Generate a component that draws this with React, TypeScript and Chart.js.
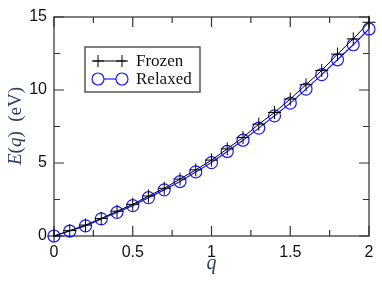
import React, { useEffect, useRef } from "react";
import { Chart, registerables } from "chart.js";

Chart.register(...registerables);

const qValues = [0, 0.1, 0.2, 0.3, 0.4, 0.5, 0.6, 0.7, 0.8, 0.9, 1.0, 1.1, 1.2, 1.3, 1.4, 1.5, 1.6, 1.7, 1.8, 1.9, 2.0];
const frozen = [0, 0.37, 0.75, 1.2, 1.7, 2.17, 2.74, 3.27, 3.9, 4.53, 5.2, 5.97, 6.75, 7.66, 8.46, 9.38, 10.36, 11.34, 12.46, 13.5, 14.64];
const relaxed = [0, 0.34, 0.69, 1.17, 1.62, 2.08, 2.63, 3.16, 3.73, 4.39, 5.03, 5.79, 6.56, 7.39, 8.23, 9.1, 10.06, 11.05, 12.07, 13.1, 14.18];
const xTicks = [0, 0.5, 1, 1.5, 2];
const yTicks = [0, 5, 10, 15];
const seriesNames = ["Frozen", "Relaxed"];

const BLUE = "#1a1aff";
const FRAME = "#555555";

const framePlugin = {
  id: "frame",
  beforeDatasetsDraw(chart: any) {
    const { ctx, chartArea: a, scales } = chart;
    const x = scales.x, y = scales.y;
    ctx.save();
    ctx.strokeStyle = FRAME;
    ctx.lineWidth = 1.5;
    ctx.strokeRect(a.left, a.top, a.right - a.left, a.bottom - a.top);
    ctx.lineWidth = 1.2;
    ctx.strokeStyle = "#333";
    ctx.beginPath();
    for (let v = 0; v <= 2.0001; v += 0.25) {
      const px = x.getPixelForValue(v);
      const major = Math.abs(v * 2 - Math.round(v * 2)) < 1e-6;
      const len = major ? 10 : 6;
      ctx.moveTo(px, a.bottom);
      ctx.lineTo(px, a.bottom - len);
      ctx.moveTo(px, a.top);
      ctx.lineTo(px, a.top + len);
    }
    for (let v = 0; v <= 15.0001; v += 2.5) {
      const py = y.getPixelForValue(v);
      const major = Math.abs(v / 5 - Math.round(v / 5)) < 1e-6;
      const len = major ? 10 : 6;
      ctx.moveTo(a.left, py);
      ctx.lineTo(a.left + len, py);
      ctx.moveTo(a.right, py);
      ctx.lineTo(a.right - len, py);
    }
    ctx.stroke();
    ctx.restore();
  },
  afterDraw(chart: any) {
    const { ctx, chartArea: a } = chart;
    ctx.save();
    // legend
    const lx = 85, ly = 47, lw = 115, lh = 45;
    ctx.fillStyle = "#fff";
    ctx.fillRect(lx, ly, lw, lh);
    ctx.strokeStyle = FRAME;
    ctx.lineWidth = 1.5;
    ctx.strokeRect(lx, ly, lw, lh);
    const rows = [61, 79];
    ctx.lineWidth = 1;
    // Frozen
    ctx.strokeStyle = "#000";
    ctx.beginPath();
    ctx.moveTo(93, rows[0]); ctx.lineTo(126, rows[0]);
    [98, 122].forEach((cx) => {
      ctx.moveTo(cx - 6, rows[0]); ctx.lineTo(cx + 6, rows[0]);
      ctx.moveTo(cx, rows[0] - 6); ctx.lineTo(cx, rows[0] + 6);
    });
    ctx.stroke();
    // Relaxed
    ctx.strokeStyle = BLUE;
    ctx.lineWidth = 1.2;
    ctx.beginPath();
    ctx.moveTo(104, rows[1]); ctx.lineTo(116, rows[1]);
    ctx.stroke();
    [98, 122].forEach((cx) => {
      ctx.beginPath();
      ctx.arc(cx, rows[1], 6, 0, Math.PI * 2);
      ctx.stroke();
    });
    ctx.fillStyle = "#111";
    ctx.font = "17px 'Liberation Serif'";
    ctx.textBaseline = "middle";
    ctx.textAlign = "left";
    ctx.fillText(seriesNames[0], 136, rows[0] + 1);
    ctx.fillText(seriesNames[1], 136, rows[1] + 1);

    // y title
    ctx.save();
    ctx.translate(16, 126);
    ctx.rotate(-Math.PI / 2);
    const parts: [string, boolean][] = [["E", true], ["(", false], ["q", true], [")  (eV)", false]];
    const fontFor = (it: boolean) => (it ? "italic " : "") + "19px 'Liberation Serif'";
    let total = 0;
    parts.forEach(([t, it]) => { ctx.font = fontFor(it); total += ctx.measureText(t).width; });
    let cx = -total / 2;
    ctx.fillStyle = "#2f3d66";
    ctx.textAlign = "left";
    ctx.textBaseline = "middle";
    parts.forEach(([t, it]) => {
      ctx.font = fontFor(it);
      ctx.fillText(t, cx, 0);
      cx += ctx.measureText(t).width;
    });
    ctx.restore();

    // x title
    ctx.font = "italic 20px 'Liberation Serif'";
    ctx.fillStyle = "#2f3d66";
    ctx.textAlign = "center";
    ctx.textBaseline = "middle";
    ctx.fillText("q", (a.left + a.right) / 2, 264);
    ctx.restore();
  },
};

export default function App() {
  const ref = useRef<HTMLCanvasElement>(null);
  useEffect(() => {
    document.body.style.margin = "0";
    const canvas = ref.current!;
    const chart = new Chart(canvas, {
      type: "line",
      data: {
        datasets: [
          {
            label: seriesNames[0],
            data: qValues.map((q, i) => ({ x: q, y: frozen[i] })),
            borderColor: "#000",
            borderWidth: 1,
            pointStyle: "cross",
            pointRadius: 6.5,
            pointBorderColor: "#000",
            pointBorderWidth: 1,
            clip: false,
            order: 0,
          },
          {
            label: seriesNames[1],
            data: qValues.map((q, i) => ({ x: q, y: relaxed[i] })),
            borderColor: BLUE,
            borderWidth: 1.2,
            pointStyle: "circle",
            pointRadius: 6,
            pointBorderColor: BLUE,
            pointBackgroundColor: "rgba(0,0,0,0)",
            pointBorderWidth: 1.2,
            clip: false,
            order: 1,
          },
        ],
      },
      options: {
        animation: false,
        responsive: false,
        maintainAspectRatio: false,
        devicePixelRatio: 1,
        layout: { padding: { left: 0, right: 13, top: 17, bottom: 0 } },
        plugins: { legend: { display: false }, tooltip: { enabled: false } },
        scales: {
          x: {
            type: "linear",
            min: 0,
            max: 2,
            grid: { display: false, drawTicks: false },
            border: { display: false },
            afterFit: (s: any) => { s.height = 46; },
            afterBuildTicks: (s: any) => { s.ticks = xTicks.map((v) => ({ value: v })); },
            ticks: {
              padding: 7,
              color: "#111",
              font: { family: "'Liberation Sans'", size: 16 },
              callback: (v: any) => String(v),
              maxRotation: 0,
            },
          },
          y: {
            type: "linear",
            min: 0,
            max: 15,
            grid: { display: false, drawTicks: false },
            border: { display: false },
            afterFit: (s: any) => { s.width = 54; },
            afterBuildTicks: (s: any) => { s.ticks = yTicks.map((v) => ({ value: v })); },
            ticks: {
              padding: 7,
              color: "#111",
              font: { family: "'Liberation Sans'", size: 16 },
              callback: (v: any) => String(v),
            },
          },
        },
      },
      plugins: [framePlugin],
    });
    return () => chart.destroy();
  }, []);
  return <canvas ref={ref} width={382} height={282} style={{ display: "block" }} />;
}
